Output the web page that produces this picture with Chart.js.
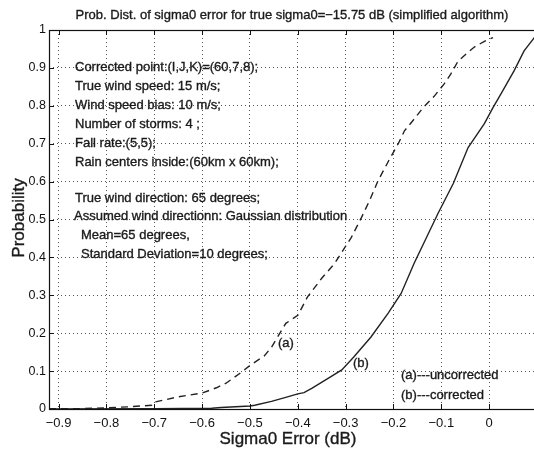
<!DOCTYPE html>
<html><head><meta charset="utf-8">
<script src="https://cdn.jsdelivr.net/npm/chart.js@4/dist/chart.umd.min.js"></script>
<style>
html,body{margin:0;padding:0;background:#fff;overflow:hidden;}
#wrap{width:540px;height:451px;position:relative;}
</style></head><body>
<div id="wrap"><canvas id="c" width="540" height="451"></canvas></div>
<script>
// Data
const uncorrX = [-0.92,-0.85,-0.8,-0.75,-0.705,-0.7,-0.65,-0.6,-0.57,-0.55,-0.52,-0.5,-0.47,-0.455,-0.425,-0.4,-0.38,-0.35,-0.323,-0.288,-0.267,-0.25,-0.232,-0.21,-0.19,-0.177,-0.16,-0.138,-0.115,-0.094,-0.08,-0.065,-0.045,-0.031,-0.01,0.008];
const uncorrY = [0.001,0.001,0.003,0.006,0.01,0.018,0.032,0.042,0.056,0.068,0.095,0.115,0.14,0.163,0.226,0.247,0.295,0.345,0.384,0.453,0.505,0.55,0.603,0.655,0.70,0.734,0.76,0.795,0.825,0.858,0.884,0.918,0.94,0.955,0.97,0.98];
const corrX = [-0.92,-0.7,-0.58,-0.56,-0.5,-0.49,-0.455,-0.427,-0.4,-0.387,-0.37,-0.335,-0.308,-0.283,-0.247,-0.211,-0.184,-0.157,-0.13,-0.107,-0.075,-0.044,-0.01,0.008,0.025,0.052,0.073,0.094,0.1];
const corrY = [0,0.001,0.002,0.004,0.008,0.01,0.02,0.03,0.04,0.043,0.055,0.082,0.103,0.137,0.19,0.253,0.305,0.384,0.455,0.516,0.595,0.69,0.753,0.795,0.832,0.892,0.945,0.979,0.99];
const xTicks = [-0.9,-0.8,-0.7,-0.6,-0.5,-0.4,-0.3,-0.2,-0.1,0];
const yTicks = [0,0.1,0.2,0.3,0.4,0.5,0.6,0.7,0.8,0.9,1];
const titleText = "Prob. Dist. of sigma0 error for true sigma0=\u221215.75 dB (simplified algorithm)";
const xTitle = "Sigma0 Error (dB)";
const yTitle = "Probability";
const noteLines = [
  ["Corrected point:(I,J,K)=(60,7,8);",75,67],
  ["True wind speed: 15 m/s;",75,86],
  ["Wind speed bias: 10 m/s;",75,105],
  ["Number of storms: 4 ;",75,124],
  ["Fall rate:(5,5);",75,143],
  ["Rain centers inside:(60km x 60km);",75,162],
  ["True wind direction: 65 degrees;",75,198],
  ["Assumed wind directionn: Gaussian distribution",74,216],
  ["Mean=65 degrees,",81,235],
  ["Standard Deviation=10 degrees;",81,254],
  ["(a)",278,343],
  ["(b)",353,363],
  ["(a)---uncorrected",401,375],
  ["(b)---corrected",401,395]
];

const FONT = '"Liberation Sans", Arial, Helvetica, sans-serif';
const fmt = v => { const n = Number(v.toFixed(1)); return (n === 0 ? '0' : String(n)).replace('-', '\u2212'); };

function heavyText(ctx, t, x, y) {
  ctx.strokeText(t, x, y);
  ctx.fillText(t, x, y);
}

const decor = {
  id: 'decor',
  afterDraw(chart) {
    const ctx = chart.ctx, a = chart.chartArea;
    const xs = chart.scales.x, ys = chart.scales.y;
    ctx.save();
    ctx.strokeStyle = '#111'; ctx.lineWidth = 1.2;
    ctx.strokeRect(Math.round(a.left)+0.5, Math.round(a.top)+0.5, a.right - a.left, a.bottom - a.top);
    ctx.lineWidth = 1;
    ctx.beginPath();
    xTicks.forEach(v => {
      const p = Math.round(xs.getPixelForValue(v)) + 0.5;
      ctx.moveTo(p, a.bottom); ctx.lineTo(p, a.bottom - 5);
      ctx.moveTo(p, a.top); ctx.lineTo(p, a.top + 5);
    });
    yTicks.forEach(v => {
      const p = Math.round(ys.getPixelForValue(v)) + 0.5;
      ctx.moveTo(a.left, p); ctx.lineTo(a.left + 5, p);
    });
    ctx.stroke();
    ctx.fillStyle = '#1a1a1a';
    ctx.strokeStyle = '#1a1a1a';
    ctx.lineWidth = 0.35;
    ctx.textBaseline = 'middle';
    ctx.textAlign = 'center';
    ctx.font = '13px ' + FONT;
    heavyText(ctx, titleText, 292, 15);
    ctx.font = '17px ' + FONT;
    heavyText(ctx, xTitle, 288, 439);
    ctx.save();
    ctx.translate(19, 218); ctx.rotate(-Math.PI/2);
    heavyText(ctx, yTitle, 0, 0);
    ctx.restore();
    ctx.textAlign = 'left';
    ctx.font = '13px ' + FONT;
    noteLines.forEach(([t,x,y]) => heavyText(ctx, t, x, y));
    ctx.restore();
  }
};

new Chart(document.getElementById('c'), {
  type: 'line',
  data: {
    datasets: [
      { label: '(a) uncorrected', data: uncorrX.map((x,i)=>({x, y: uncorrY[i]})), borderColor: '#222', borderWidth: 1.4, borderDash: [7,5], pointRadius: 0, tension: 0, fill: false },
      { label: '(b) corrected', data: corrX.map((x,i)=>({x, y: corrY[i]})), borderColor: '#222', borderWidth: 1.4, pointRadius: 0, tension: 0, fill: false }
    ]
  },
  options: {
    responsive: false, animation: false,
    layout: { padding: { top: 30, left: 0, right: 3, bottom: 0 } },
    plugins: { legend: { display: false }, title: { display: false }, tooltip: { enabled: false } },
    scales: {
      x: {
        type: 'linear', min: -0.92, max: 0.1,
        afterFit: s => { s.height = 42; },
        afterBuildTicks: s => { s.ticks = xTicks.map(v => ({ value: v })); },
        grid: { color: '#555', drawTicks: false, lineWidth: 1 },
        border: { display: false, dash: [1,3] },
        ticks: { callback: fmt, padding: 7, color: '#111', font: { family: FONT, size: 13 }, maxRotation: 0, autoSkip: false }
      },
      y: {
        type: 'linear', min: 0, max: 1,
        afterFit: s => { s.width = 49; },
        afterBuildTicks: s => { s.ticks = yTicks.map(v => ({ value: v })); },
        grid: { color: '#555', drawTicks: false, lineWidth: 1 },
        border: { display: false, dash: [1,3] },
        ticks: { callback: fmt, padding: 3, color: '#111', font: { family: FONT, size: 12.5 }, autoSkip: false }
      }
    }
  },
  plugins: [decor]
});
</script>
</body></html>
